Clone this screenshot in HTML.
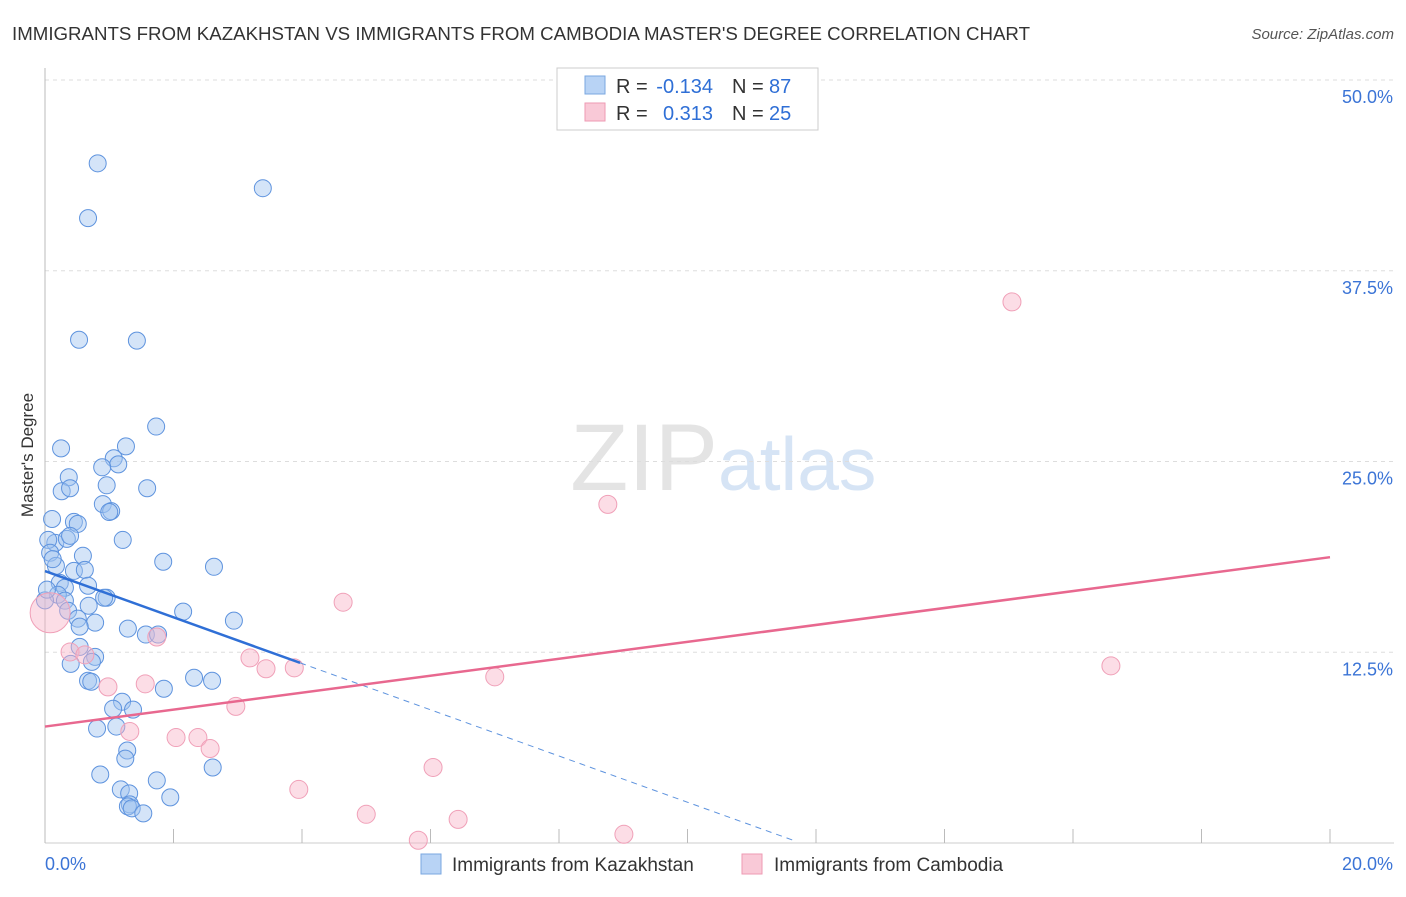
<!DOCTYPE html>
<html><head><meta charset="utf-8"><style>
body{margin:0;background:#fff;font-family:"Liberation Sans",sans-serif;}
svg text{font-family:"Liberation Sans",sans-serif;}
</style></head><body>
<svg id="c" width="1406" height="892">
<text x="12" y="40" font-size="18" fill="#333" textLength="1018" lengthAdjust="spacingAndGlyphs">IMMIGRANTS FROM KAZAKHSTAN VS IMMIGRANTS FROM CAMBODIA MASTER'S DEGREE CORRELATION CHART</text>
<text x="1394" y="39" font-size="15" fill="#555" font-style="italic" text-anchor="end">Source: ZipAtlas.com</text>
<text x="718" y="490" font-size="95" fill="#e4e4e4" text-anchor="end" font-family="Liberation Serif">ZIP</text>
<text x="718" y="490" font-size="75" fill="#d6e4f5">atlas</text>
<text x="33" y="455" font-size="17" fill="#333" text-anchor="middle" transform="rotate(-90 33 455)">Master's Degree</text>
<g id="grid"></g><g id="marks"></g>
<g>
<rect x="557" y="68" width="261" height="62" fill="#fff" stroke="#ccc"/>
<rect x="585" y="76" width="20" height="18" fill="#b8d3f5" stroke="#7aa7e0"/>
<rect x="585" y="103" width="20" height="18" fill="#f9c9d7" stroke="#ee9ab3"/>
<text x="616" y="93" font-size="20" fill="#333">R =</text>
<text x="713" y="93" font-size="20" fill="#2f6fd6" text-anchor="end">-0.134</text>
<text x="732" y="93" font-size="20" fill="#333">N =</text>
<text x="769" y="93" font-size="20" fill="#2f6fd6">87</text>
<text x="616" y="120" font-size="20" fill="#333">R =</text>
<text x="713" y="120" font-size="20" fill="#2f6fd6" text-anchor="end">0.313</text>
<text x="732" y="120" font-size="20" fill="#333">N =</text>
<text x="769" y="120" font-size="20" fill="#2f6fd6">25</text>
</g>
<g>
<rect x="421" y="854" width="20" height="20" fill="#b8d3f5" stroke="#7aa7e0"/>
<text x="452" y="871" font-size="19" fill="#333">Immigrants from Kazakhstan</text>
<rect x="742" y="854" width="20" height="20" fill="#f9c9d7" stroke="#ee9ab3"/>
<text x="774" y="871" font-size="19" fill="#333">Immigrants from Cambodia</text>
</g>
</svg>
<script>
const yTicks=[12.5,25,37.5,50];
const yTickLabels=["12.5%","25.0%","37.5%","50.0%"];
const xTicks=[0,2,4,6,8,10,12,14,16,18,20];
const blueX=[0.82,0.67,3.39,0.53,1.43,1.73,0.25,1.26,1.07,1.14,0.89,0.37,0.26,0.39,0.96,1.59,0.11,0.90,1.03,1.00,0.45,0.51,1.21,0.16,0.05,0.34,0.39,0.08,0.59,1.84,2.63,0.17,0.45,0.62,0.23,0.67,0.31,0.20,0.96,0.92,0.68,0.31,2.15,0.36,0.51,0.78,0.54,2.94,1.29,1.57,1.76,0.54,0.78,0.73,0.40,2.32,2.60,0.67,0.72,1.85,1.20,1.06,1.37,1.11,0.81,1.28,1.25,0.86,1.74,2.61,1.18,1.31,1.32,1.29,1.35,1.95,1.53,0.0,0.03,0.12];
const blueY=[44.54,40.95,42.91,32.98,32.92,27.29,25.86,25.99,25.21,24.81,24.62,23.97,23.05,23.25,23.44,23.25,21.23,22.21,21.75,21.69,21.04,20.91,19.86,19.67,19.86,19.93,20.13,19.02,18.82,18.43,18.10,18.16,17.83,17.90,17.05,16.86,16.73,16.27,16.07,16.07,15.55,15.88,15.16,15.22,14.70,14.44,14.18,14.57,14.05,13.66,13.66,12.85,12.20,11.87,11.74,10.83,10.63,10.63,10.57,10.11,9.26,8.80,8.74,7.63,7.50,6.06,5.53,4.49,4.10,4.95,3.51,3.25,2.53,2.40,2.27,2.99,1.94,15.9,16.6,18.6];
const pinkX=[15.05,8.76,4.64,1.74,0.39,0.98,1.56,3.19,3.44,3.88,7.00,16.59,2.97,1.32,2.04,2.38,2.57,6.04,3.95,5.00,6.43,5.81,9.01,0.08,0.62];
const pinkY=[35.46,22.19,15.78,13.50,12.52,10.23,10.43,12.13,11.42,11.48,10.89,11.61,8.95,7.31,6.91,6.91,6.19,4.95,3.51,1.88,1.55,0.18,0.57,15.09,12.33];
const pinkR=[9,9,9,9,9,9,9,9,9,9,9,9,9,9,9,9,9,9,9,9,9,9,9,20,9];
const blueTrend=[17.82,-1.515,3.97,11.7];
const pinkTrend=[7.63,18.73];
const X=v=>45+v/20*1285, Y=v=>843-v*15.26;
const NS="http://www.w3.org/2000/svg";
function mk(p,t,a){const e=document.createElementNS(NS,t);for(const k in a)e.setAttribute(k,a[k]);p.appendChild(e);return e;}
const g=document.getElementById('grid'),m=document.getElementById('marks');
yTicks.forEach((t,i)=>{
 const l=mk(g,'line',{x1:45,x2:1394,y1:Y(t),y2:Y(t),stroke:'#ddd','stroke-dasharray':'4,4'});
 
 
 const tx=mk(g,'text',{x:1393,y:Y(t)+23,'font-size':18,fill:'#3b74d6','text-anchor':'end'});tx.textContent=yTickLabels[i];
 
 
});
mk(g,'line',{x1:45,x2:1394,y1:Y(0),y2:Y(0),stroke:'#ccc'});
mk(g,'line',{x1:45,x2:45,y1:68,y2:843,stroke:'#bbb'});
xTicks.forEach(t=>{const l=mk(g,'line',{x1:X(t),x2:X(t),y1:829,y2:843,stroke:'#bbb'});
 
 });
const a=mk(g,'text',{x:45,y:870,'font-size':18,fill:'#3b74d6'});a.textContent='0.0%';


const b=mk(g,'text',{x:1393,y:870,'font-size':18,fill:'#3b74d6','text-anchor':'end'});b.textContent='20.0%';


blueX.forEach((x,i)=>{const c=mk(m,'circle',{cx:X(x),cy:Y(blueY[i]),r:8.5,fill:'rgba(160,195,240,0.45)',stroke:'#5e93de','stroke-width':1});
 
 });
pinkX.forEach((x,i)=>{const c=mk(m,'circle',{cx:X(x),cy:Y(pinkY[i]),r:pinkR[i],fill:'rgba(248,180,200,0.45)',stroke:'#f0a0b8','stroke-width':1});
 
 });
const [b0,bs,bx1,bx2]=blueTrend;
const t1=mk(m,'line',{x1:X(0),y1:Y(b0),x2:X(bx1),y2:Y(b0+bs*bx1),stroke:'#2f6fd6','stroke-width':2.5});


const t2=mk(m,'line',{x1:X(bx1),y1:Y(b0+bs*bx1),x2:X(bx2),y2:Y(b0+bs*bx2),stroke:'#5e93de','stroke-width':1,'stroke-dasharray':'6,5'});


const t3=mk(m,'line',{x1:X(0),y1:Y(pinkTrend[0]),x2:X(20),y2:Y(pinkTrend[1]),stroke:'#e8688f','stroke-width':2.5});


</script>
</body></html>
